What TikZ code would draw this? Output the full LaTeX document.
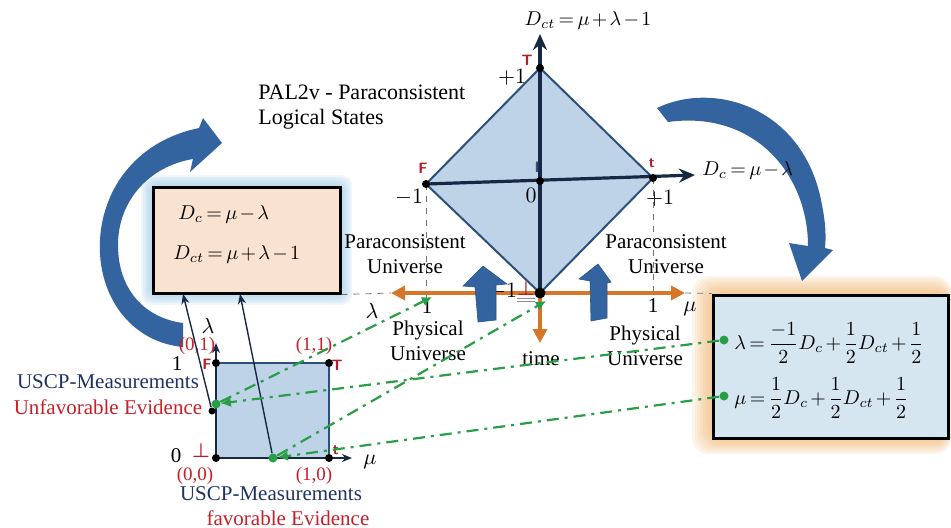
\documentclass[tikz,border=0pt]{standalone}
\usepackage{fontspec}
\setmainfont{Liberation Serif}
\usepackage{amsmath}
\usepackage{xcolor}
\definecolor{PeachFill}{RGB}{250,226,208}
\definecolor{BoxBlue}{RGB}{214,230,240}
\definecolor{GlowBlue}{RGB}{150,200,228}
\definecolor{GlowOrange}{RGB}{240,178,110}
\definecolor{DiaFill}{RGB}{190,210,232}
\definecolor{DiaLine}{RGB}{45,80,122}
\definecolor{AxisNavy}{RGB}{22,40,68}
\definecolor{ArrBlue}{RGB}{52,100,160}
\definecolor{LogOrange}{RGB}{214,118,38}
\definecolor{EvGreen}{RGB}{40,158,70}
\definecolor{MarkRed}{RGB}{178,28,38}
\definecolor{TxtBlue}{RGB}{30,50,100}
\definecolor{TxtRed}{RGB}{200,30,40}
\usepackage{tikz}
\usetikzlibrary{positioning,arrows.meta,calc,fit}

\begin{document}
\medmuskip=2mu \thickmuskip=3mu
\begin{tikzpicture}[x=0.5pt, y=-0.5pt, >=Stealth, font=\fontsize{10.5}{12.5}\selectfont]
\tikzstyle{lbl}=[inner sep=1pt]
\tikzstyle{eq}=[inner sep=1pt, font=\fontsize{9.8}{12}\selectfont]
\tikzstyle{coord}=[inner sep=1pt, text=TxtRed, font=\fontsize{9.5}{11}\selectfont]
\tikzstyle{badge}=[inner sep=0.5pt, text=MarkRed, font=\sffamily\bfseries\fontsize{7.5}{8}\selectfont]
\tikzstyle{botbadge}=[inner sep=0.5pt, text=MarkRed, font=\fontsize{10}{10}\selectfont\boldmath]
\tikzstyle{pt}=[circle, fill=black, inner sep=0pt, minimum size=4pt]
\tikzstyle{gdot}=[circle, fill=EvGreen, inner sep=0pt, minimum size=4.5pt]
\tikzstyle{evid}=[EvGreen, line width=1.1pt, dash pattern=on 6pt off 3pt on 1.5pt off 3pt, -{Latex[length=5pt,width=5pt]}]
\tikzstyle{link}=[AxisNavy, line width=0.7pt, -{Stealth[length=5pt,width=4pt]}]
\tikzstyle{guide}=[black!55, dashed, line width=0.4pt]
\tikzstyle{orarr}=[LogOrange, line width=2pt, -{Triangle[length=7pt,width=7pt]}]
\tikzstyle{ax}=[AxisNavy, line width=1.6pt, -{Stealth[length=8pt,width=7pt]}]
\tikzstyle{sqax}=[AxisNavy, line width=0.8pt, -{Stealth[length=5pt,width=4pt]}]
\tikzstyle{upblk}=[fill=ArrBlue, draw=ArrBlue!85!black, line width=0.3pt]

\useasboundingbox (0,0) rectangle (951,527);

% boxes with glow
\coordinate (dNW) at (153,187);
\coordinate (dSE) at (340,293);
\coordinate (rNW) at (713,295);
\coordinate (rSE) at (948,438);
\foreach \g in {1,...,6}
  \fill[GlowBlue, opacity=0.16, rounded corners=5pt] ($(dNW)+(-2*\g,-2*\g)$) rectangle ($(dSE)+(2*\g,2*\g)$);
\foreach \g in {1,...,8}
  \fill[GlowOrange, opacity=0.13, rounded corners=8pt] ($(rNW)+(-2.6*\g,-2.4*\g)$) rectangle ($(rSE)+(0.4*\g,2*\g)$);

% curved arrows
\fill[ArrBlue] (183,347) .. controls (130,342) and (97,295) .. (100,240)
  .. controls (103,185) and (140,140) .. (199,128)
  -- (203,118) -- (222,143) -- (190,172) -- (193,159)
  .. controls (150,166) and (118,200) .. (118,245)
  .. controls (118,290) and (145,318) .. (183,323) -- cycle;
\fill[ArrBlue] (657,108) .. controls (715,80) and (805,108) .. (822,205)
  .. controls (826,225) and (826,238) .. (825,248)
  -- (833,250) -- (802,281) -- (789,243) -- (808,246)
  .. controls (808,175) and (755,110) .. (668,122) -- cycle;

\node[fit=(dNW)(dSE), inner sep=0pt, draw=black, line width=1.5pt, fill=PeachFill] (dbox) {};
\node[fit=(rNW)(rSE), inner sep=0pt, draw=black, line width=1.5pt, fill=BoxBlue] (rbox) {};
\node[eq, anchor=west] (eqDc) at (176,214) {$D_c=\mu-\lambda$};
\node[eq, anchor=west] (eqDct) at (171,254) {$D_{ct}=\mu+\lambda-1$};
\node[eq, anchor=west, font=\fontsize{10}{12}\selectfont] (eqLam) at (732,343) {$\lambda=\dfrac{-1}{2}D_c+\dfrac{1}{2}D_{ct}+\dfrac{1}{2}$};
\node[eq, anchor=west, font=\fontsize{10}{12}\selectfont] (eqMu) at (732,398) {$\mu=\dfrac{1}{2}D_c+\dfrac{1}{2}D_{ct}+\dfrac{1}{2}$};

% lattice diamond
\coordinate (T) at (540,68);
\coordinate (F) at (426,184);
\coordinate (tt) at (653,178);
\coordinate (B) at (540,293);
\coordinate (O) at (540,181);
\coordinate (dctTip) at (540,34);
\coordinate (dcTip) at (695,175);
\coordinate (lamTip) at (391,293);
\coordinate (muTip) at (685,293);
\coordinate (timeTip) at (540,343);

\draw[guide] (F) -- (426,304);
\draw[guide] (tt) -- (653,304);
\draw[guide] (dbox.south east) -- (lamTip);
\draw[guide] (muTip) -- (rbox.north west);

\fill[DiaFill] (T) -- (tt) -- (B) -- (F) -- cycle;
\draw[DiaLine, line width=1pt, line join=round] (T) -- (tt) -- (B) -- (F) -- cycle;
\draw[orarr] (B) -- (lamTip);
\draw[orarr] (B) -- (muTip);
\draw[orarr] (B) -- (timeTip);
\draw[ax] (B) -- (dctTip);
\draw[ax] (F) -- (dcTip);

\node[pt] (nT) at (T) {};
\node[pt] (nF) at (F) {};
\node[pt] (nt) at (tt) {};
\node[pt] (nO) at (O) {};
\node[pt, minimum size=5.5pt] (nB) at (B) {};

\node[eq, font=\fontsize{9.6}{12}\selectfont] (dctLbl) at (588,20) {$D_{ct}=\mu+\lambda-1$};
\node[eq, anchor=west, font=\fontsize{10}{12}\selectfont] (dcLbl) at (700,170) {$D_c=\mu-\lambda$};
\node[lbl] at (512,77) {$+1$};
\node[lbl] at (409,197) {$-1$};
\node[lbl] at (531,195) {$0$};
\node[lbl] at (660,198) {$+1$};
\node[lbl] at (503,291) {$-1$};
\node[badge] at (527,60) {T};
\node[badge] at (423,168) {F};
\node[badge, text=DiaLine] at (537,167) {I};
\node[badge] at (652,163) {t};
\node[botbadge] (botB) at (526,289) {$\perp$};
\draw[black!45, line width=0.5pt] ($(botB.south west)+(1,1)$) -- ($(botB.south east)+(-1,1)$)
  ($(botB.south west)+(1,4)$) -- ($(botB.south east)+(-1,4)$);

\node[lbl, anchor=west, align=left, font=\fontsize{11}{12.5}\selectfont] (pal) at (256,107) {PAL2v - Paraconsistent\\Logical States};
\node[lbl, align=center] (pcL) at (405,254) {Paraconsistent\\Universe};
\node[lbl, align=center] (pcR) at (666,254) {Paraconsistent\\Universe};
\node[lbl, align=center] (phL) at (428,341) {Physical\\Universe};
\node[lbl, align=center] (phR) at (645,346) {Physical\\Universe};
\node[lbl] (lamLbl) at (372,311) {$\lambda$};
\node[lbl] at (427,307) {1};
\node[lbl] at (653,306) {1};
\node[lbl] (muLbl) at (690,309) {$\mu$};
\node[lbl] (timeLbl) at (541,359) {time};

% up block arrows
\draw[upblk] (483,266) -- (507,284) -- (496,285) -- (496,320) -- (478,322) -- (475,287) -- (463,286) -- cycle;
\draw[upblk] (598,264) -- (611,282) -- (607,283) -- (607,318) -- (591,321) -- (590,281) -- (579,279) -- cycle;

% unit square of evidences
\coordinate (s00) at (216,458);
\coordinate (s10) at (329,458);
\coordinate (s01) at (216,363);
\coordinate (s11) at (329,363);
\fill[DiaFill] (s00) rectangle (s11);
\draw[DiaLine, line width=1pt] (s00) rectangle (s11);
\draw[sqax] (s00) -- (216,343);
\draw[sqax] (s00) -- (352,458);
\node[pt] (c00) at (s00) {};
\node[pt] (c10) at (s10) {};
\node[pt] (c01) at (s01) {};
\node[pt] (c11) at (s11) {};
\node[pt, minimum size=3.5pt] (pk) at (212,411) {};
\node[gdot] (pl) at (216,404) {};
\node[gdot] (pm) at (273,458) {};

\node[lbl] at (208,326) {$\lambda$};
\node[lbl] at (370,462) {$\mu$};
\node[lbl] at (177,364) {1};
\node[lbl] at (176,456) {0};
\node[coord] at (197,346) {(0,1)};
\node[coord] at (314,346) {(1,1)};
\node[coord] at (195,476) {(0,0)};
\node[coord] at (314,476) {(1,0)};
\node[badge] at (207,364) {F};
\node[badge] at (337,365) {T};
\node[botbadge] at (201,451) {$\perp$};
\node[badge] at (336,450) {t};

\node[lbl, text=TxtBlue] (uscpL) at (108,382) {USCP-Measurements};
\node[lbl, text=TxtRed] (unfav) at (108,407) {Unfavorable Evidence};
\node[lbl, text=TxtBlue] (uscpB) at (271,494) {USCP-Measurements};
\node[lbl, text=TxtRed] (fav) at (288,518) {favorable Evidence};

% links
\coordinate (dIn1) at (183,294);
\coordinate (dIn2) at (240,294);
\coordinate (hitL) at (432,297);
\coordinate (hitM) at (546,301);
\draw[link] (pk) -- (dIn1);
\draw[link] (pm) -- (dIn2);

\node[gdot] (gLam) at (724,340) {};
\node[gdot] (gMu) at (724,396) {};
\draw[evid] (pl) -- (hitL);
\draw[evid] (pm) -- (hitM);
\draw[evid] (gLam) -- (pl);
\draw[evid] (gMu) -- (pm);
\end{tikzpicture}
\end{document}
